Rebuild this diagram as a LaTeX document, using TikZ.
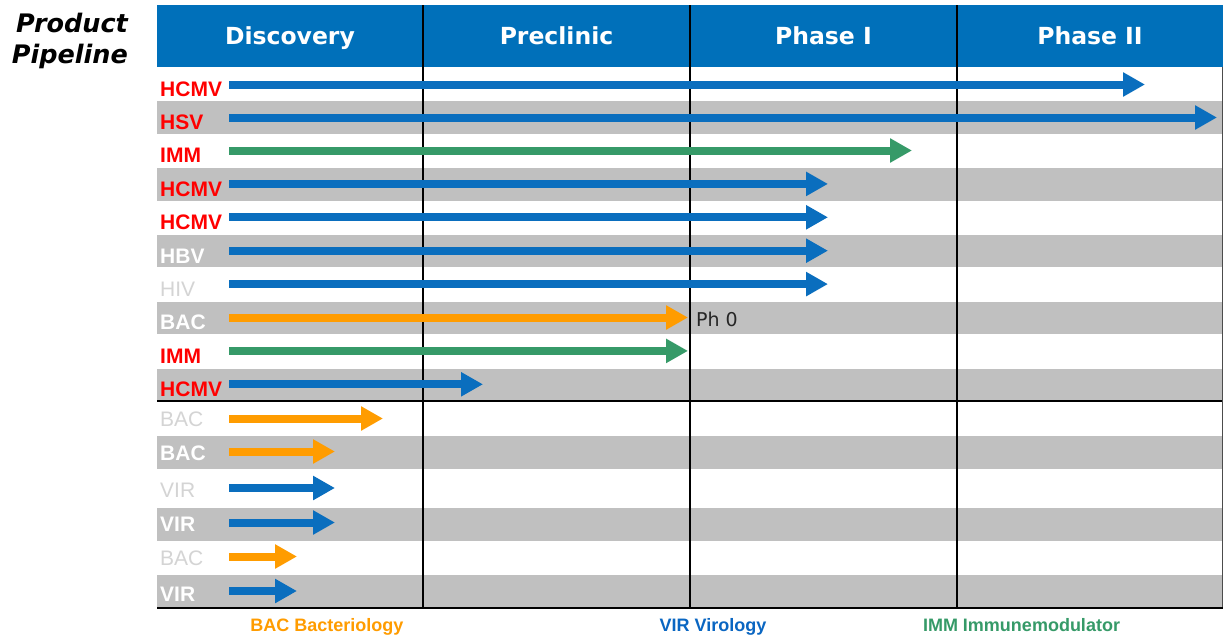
\documentclass[tikz,border=0pt]{standalone}
\usepackage{fontspec}
\setmainfont{DejaVu Sans}
\newfontfamily\labfont{Liberation Sans}
\usetikzlibrary{arrows.meta}
\definecolor{hdrblue}{HTML}{0070BA}
\definecolor{arrblue}{HTML}{0A6EBE}
\definecolor{arrgreen}{HTML}{369A68}
\definecolor{arrorange}{HTML}{FF9C00}
\definecolor{rowgrey}{HTML}{C0C0C0}
\definecolor{lblred}{HTML}{FF0000}
\definecolor{lblgrey}{HTML}{D4D4D4}
\definecolor{legblue}{HTML}{0A66C2}
\begin{document}
\begin{tikzpicture}[x=1pt,y=-1pt,
  lab/.style={anchor=base west, inner sep=0pt, font=\labfont\fontsize{21}{21}\selectfont\bfseries},
  labred/.style={lab, text=lblred},
  labwhite/.style={lab, text=white},
  labgrey/.style={lab, text=lblgrey, font=\labfont\fontsize{21}{21}\selectfont},
  arr/.style={line width=8pt, -{Triangle[length=22pt,width=23pt]}},
  hdr/.style={text=white, font=\fontsize{23.5}{23.5}\selectfont\bfseries, anchor=base, inner sep=0pt},
  greyrow/.style={fill=rowgrey},
  colline/.style={draw=black, line width=1.3pt},
  legend/.style={anchor=base, inner sep=0pt, font=\labfont\fontsize{18}{18}\selectfont\bfseries},
  title/.style={anchor=base east, inner sep=0pt, font=\fontsize{25.5}{25.5}\selectfont\bfseries\itshape},
]
\useasboundingbox[fill=white] (0,0) rectangle (1223,637);

% header band
\fill[hdrblue] (157,5) rectangle (1223,67);
\node[hdr] (h1) at (290,44.5) {Discovery};
\node[hdr] (h2) at (556.5,44.5) {Preclinic};
\node[hdr] (h3) at (823.5,44.5) {Phase I};
\node[hdr] (h4) at (1090,44.5) {Phase II};

% grey rows
\fill[greyrow] (157,101.4) rectangle (1222,133.8);
\fill[greyrow] (157,168.2) rectangle (1222,200.6);
\fill[greyrow] (157,235) rectangle (1222,267.4);
\fill[greyrow] (157,301.8) rectangle (1222,334.2);
\fill[greyrow] (157,368.6) rectangle (1222,401);
\fill[greyrow] (157,435.5) rectangle (1222,469);
\fill[greyrow] (157,508) rectangle (1222,541);
\fill[greyrow] (157,574.5) rectangle (1222,608);

% grid lines
\draw[colline] (423,5) -- (423,608);
\draw[colline] (690,5) -- (690,608);
\draw[colline] (957,5) -- (957,608);
\draw[draw=black!70, line width=1pt] (1222.5,67) -- (1222.5,608);
\draw[colline] (157,401) -- (1222,401);
\draw[colline] (157,608) -- (1223,608);

% title
\node[title] (t1) at (128,32) {Product};
\node[title] (t2) at (128,63) {Pipeline};

% row labels
\node[labred]   (l1)  at (160,96)    {HCMV};
\node[labred]   (l2)  at (160,129.4) {HSV};
\node[labred]   (l3)  at (160,162.8) {IMM};
\node[labred]   (l4)  at (160,196.2) {HCMV};
\node[labred]   (l5)  at (160,229.6) {HCMV};
\node[labwhite] (l6)  at (160,263)   {HBV};
\node[labgrey]  (l7)  at (160,296.4) {HIV};
\node[labwhite] (l8)  at (160,329.8) {BAC};
\node[labred]   (l9)  at (160,363.2) {IMM};
\node[labred]   (l10) at (160,396.6) {HCMV};
\node[labgrey]  (l11) at (160,426.5) {BAC};
\node[labwhite] (l12) at (160,460.5) {BAC};
\node[labgrey]  (l13) at (160,497)   {VIR};
\node[labwhite] (l14) at (160,531)   {VIR};
\node[labgrey]  (l15) at (160,565.5) {BAC};
\node[labwhite] (l16) at (160,601.5) {VIR};

% arrow end points
\foreach \i/\y/\e in {1/84.5/1145, 2/117.5/1217, 3/150.5/912, 4/183.9/828,
  5/217.3/828, 6/250.7/828, 7/284.1/828, 8/317.5/688, 9/350.9/688,
  10/384.3/483, 11/418.5/383, 12/451.5/335, 13/488/335,
  14/522.5/335, 15/556.5/297, 16/591/297}{
  \coordinate (s\i) at (229,\y);
  \coordinate (e\i) at (\e,\y);
}

% arrows
\draw[arr, arrblue]   (s1)  -- (e1);
\draw[arr, arrblue]   (s2)  -- (e2);
\draw[arr, arrgreen]  (s3)  -- (e3);
\draw[arr, arrblue]   (s4)  -- (e4);
\draw[arr, arrblue]   (s5)  -- (e5);
\draw[arr, arrblue]   (s6)  -- (e6);
\draw[arr, arrblue]   (s7)  -- (e7);
\draw[arr, arrorange] (s8)  -- (e8);
\draw[arr, arrgreen]  (s9)  -- (e9);
\draw[arr, arrblue]   (s10) -- (e10);
\draw[arr, arrorange] (s11) -- (e11);
\draw[arr, arrorange] (s12) -- (e12);
\draw[arr, arrblue]   (s13) -- (e13);
\draw[arr, arrblue]   (s14) -- (e14);
\draw[arr, arrorange] (s15) -- (e15);
\draw[arr, arrblue]   (s16) -- (e16);

% Ph 0 label
\node[anchor=base west, inner sep=0pt, font=\fontsize{19}{19}\selectfont, text=black!85] (ph0) at (696,326) {Ph 0};

% legend
\node[legend, text=arrorange] (g1) at (327,631) {BAC Bacteriology};
\node[legend, text=legblue]   (g2) at (713,631) {VIR Virology};
\node[legend, text=arrgreen]  (g3) at (1021.5,631) {IMM Immunemodulator};
\end{tikzpicture}
\end{document}
